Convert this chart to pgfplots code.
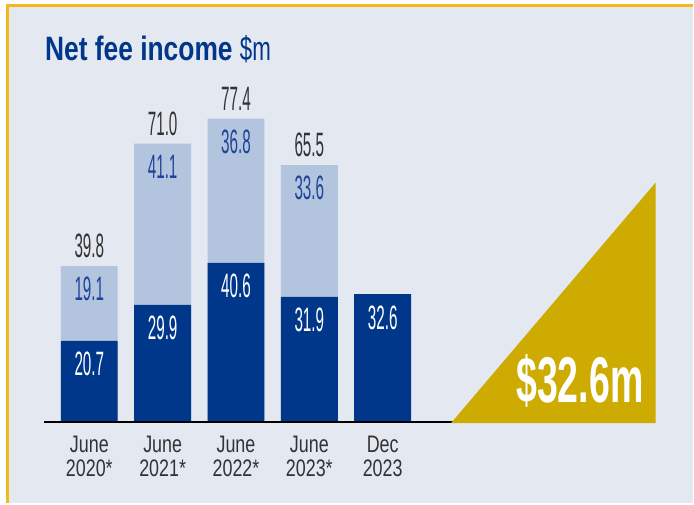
\documentclass[border=0pt]{standalone}
\usepackage{fontspec}
\usepackage{pgfplots}
\pgfplotsset{compat=1.18}
\setmainfont{Liberation Sans}
\newfontfamily\numfont[FakeStretch=0.45]{Liberation Sans}
\newfontfamily\tickfont[FakeStretch=0.75]{Liberation Sans}
\newfontfamily\titlefont[FakeStretch=0.78]{Liberation Sans}
\newfontfamily\unitfont[FakeStretch=0.66]{Liberation Sans}
\newfontfamily\bigfont[FakeStretch=0.58]{Liberation Sans}
\definecolor{navy}{HTML}{00378A}
\definecolor{lightblue}{HTML}{B3C4DE}
\definecolor{panel}{HTML}{E4E8F1}
\definecolor{border}{HTML}{F2B91C}
\definecolor{gold}{HTML}{CDAB00}
\definecolor{baseline}{HTML}{D4AF00}
\definecolor{labelgray}{HTML}{333333}
\definecolor{lightlabel}{HTML}{1D4597}
\begin{document}
\begin{tikzpicture}[x=1bp, y=1bp]
  % panel and gold frame
  \fill[white] (0,0) rectangle (694,506);
  \fill[panel] (7.5,2) rectangle (694,501);
  \draw[border, line width=3bp] (6,500.5) -- (694,500.5);
  \draw[border, line width=3bp] (7.5,2) -- (7.5,502);

  % title
  \node[anchor=base west, inner sep=0pt, text=navy] at (45,445)
    {\fontsize{34}{34}\selectfont\titlefont\bfseries Net fee income \unitfont\mdseries\$m};

  \begin{axis}[
    at={(52.75bp,83bp)}, anchor=south west,
    scale only axis,
    width=367.5bp, height=353.7bp,
    xmin=-0.5, xmax=4.5, ymin=0, ymax=90,
    ybar, bar shift=0pt, bar width=57bp,
    hide y axis,
    axis x line*=bottom,
    x axis line style={draw=none},
    major tick length=0pt,
    xtick={0,1,2,3,4},
    xticklabels={{June\\2020*},{June\\2021*},{June\\2022*},{June\\2023*},{Dec\\2023}},
    x tick label style={align=center, text=labelgray, inner sep=0pt, yshift=-14bp,
      font=\fontsize{24}{24}\selectfont\tickfont},
    point meta=explicit symbolic,
    nodes near coords,
    every node near coord/.append style={inner sep=0pt,
      font=\fontsize{34}{34}\selectfont\numfont},
  ]
    % full bar height (total), labelled with the upper segment
    \addplot[fill=lightblue, draw=none,
      every node near coord/.append style={anchor=north, yshift=-11bp, text=lightlabel}]
      coordinates {(0,39.8)[19.1] (1,71.0)[41.1] (2,77.4)[36.8] (3,65.5)[33.6]};
    % lower segment
    \addplot[fill=navy, draw=none,
      every node near coord/.append style={anchor=north, yshift=-11bp, text=white}]
      coordinates {(0,20.7)[20.7] (1,29.9)[29.9] (2,40.6)[40.6] (3,31.9)[31.9] (4,32.6)[32.6]};
    % totals above the bars
    \addplot[fill=none, draw=none,
      every node near coord/.append style={anchor=south, yshift=8bp, text=labelgray}]
      coordinates {(0,39.8)[39.8] (1,71.0)[71.0] (2,77.4)[77.4] (3,65.5)[65.5]};
  \end{axis}

  % baseline and highlight triangle
  \draw[baseline, line width=2.5bp] (44,83) -- (455,83);
  \fill[gold] (452,82) -- (657,82) -- (657,323) -- cycle;
  \node[anchor=base east, inner sep=0pt, text=white] at (645,103)
    {\fontsize{65}{65}\selectfont\bigfont\bfseries\$32.6m};
\end{tikzpicture}
\end{document}
